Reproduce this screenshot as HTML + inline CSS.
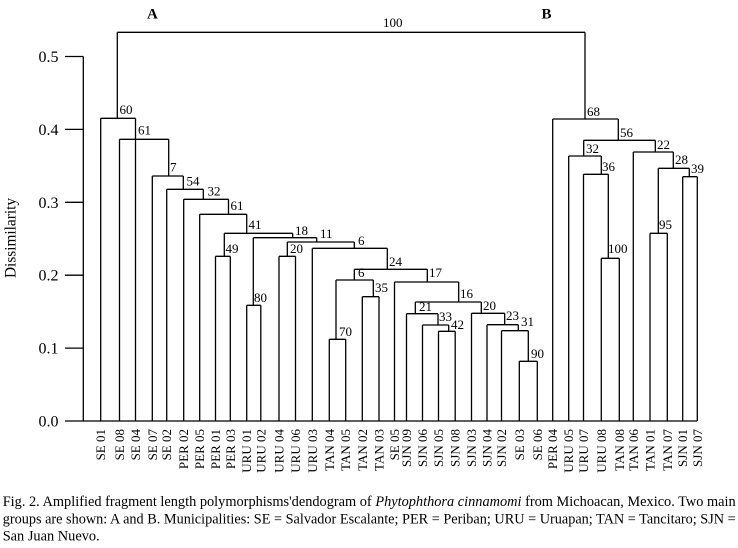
<!DOCTYPE html>
<html>
<head>
<meta charset="utf-8">
<style>
html,body{margin:0;padding:0;background:#fff;}
svg{display:block;}
text{font-family:"Liberation Serif","Times New Roman",serif;fill:#000;}
</style>
</head>
<body>
<svg width="738" height="548" viewBox="0 0 738 548" xmlns="http://www.w3.org/2000/svg">
<rect width="738" height="548" fill="#fff"/>
<g stroke="#000" stroke-width="1.3" fill="none">
<!-- axis -->
<path d="M83.3 56.5 V421 M65 56.5 H83.3 M65 129.4 H83.3 M65 202.3 H83.3 M65 275.2 H83.3 M65 348.1 H83.3 M65 421 H697.3"/>
<!-- leaves -->
<path d="M100.7 421 V118.3 M119.5 421 V139.3 M135.5 421 V118.3 M152.3 421 V176 M166.7 421 V189.3 M183.7 421 V199.3 M199.7 421 V214.3 M215.5 421 V256.3 M230.3 421 V256.3 M246.7 421 V305.3 M260.8 421 V305.3 M279 421 V256.3 M295.5 421 V256.3 M312.3 421 V248.3 M329.3 421 V339.3 M345.7 421 V339.3 M362.3 421 V296.7 M379 421 V296.7 M394.5 421 V282 M406.5 421 V313.7 M422.5 421 V325 M438.5 421 V331.3 M455.2 421 V331.3 M471.5 421 V313.3 M487 421 V324.7 M501.5 421 V330.7 M519.3 421 V361.3 M537.3 421 V361.3 M552.7 421 V119 M568.7 421 V156 M583.5 421 V174.3 M601.3 421 V258.3 M619.3 421 V258.3 M633.3 421 V152 M650 421 V233.3 M667.3 421 V233.3 M682.7 421 V176.7 M697.3 421 V176.7"/>
<!-- internal nodes -->
<path d="M117.3 32.3 H585
M100.7 118.3 H135.5 M117.3 118.3 V32.3
M119.5 139.3 H168.7
M152.3 176 H183.3 M168.7 176 V139.3
M166.7 189.3 H203.3 M183.3 189.3 V176
M183.7 199.3 H228.5 M203.3 199.3 V189.3
M199.7 214.3 H246.7 M228.5 214.3 V199.3
M224.3 233.3 H292.7 M246.7 233.3 V214.3
M215.5 256.3 H230.3 M224.3 256.3 V233.3
M253.3 237.7 H316.7 M292.7 237.7 V233.3
M246.7 305.3 H260.8 M253.3 305.3 V237.7
M287.3 242 H354.3 M316.7 242 V237.7
M279 256.3 H295.5 M287.3 256.3 V242
M312.3 248.3 H387.3 M354.3 248.3 V242
M354.3 269.3 H427.3 M387.3 269.3 V248.3
M336 280 H373.3 M354.3 280 V269.3
M329.3 339.3 H345.7 M336 339.3 V280
M362.3 296.7 H379 M373.3 296.7 V280
M394.5 282 H458.7 M427.3 282 V269.3
M415.3 302 H481.3 M458.7 302 V282
M406.5 313.7 H438 M415.3 313.7 V302
M422.5 325 H448.7 M438 325 V313.7
M438.5 331.3 H455.2 M448.7 331.3 V325
M471.5 313.3 H504.7 M481.3 313.3 V302
M487 324.7 H518.3 M504.7 324.7 V313.3
M501.5 330.7 H528.3 M518.3 330.7 V324.7
M519.3 361.3 H537.3 M528.3 361.3 V330.7
M552.7 119 H618.3 M585 119 V32.3
M583.7 140.3 H655.3 M618.3 140.3 V119
M568.7 156 H601.3 M583.7 156 V140.3
M583.5 174.3 H608.3 M601.3 174.3 V156
M601.3 258.3 H619.3 M608.3 258.3 V174.3
M633.3 152 H673.3 M655.3 152 V140.3
M658.3 168.3 H689.3 M673.3 168.3 V152
M650 233.3 H667.3 M658.3 233.3 V168.3
M682.7 176.7 H697.3 M689.3 176.7 V168.3"/>
</g>

<!-- y tick labels -->
<g font-size="16" text-anchor="end">
<text x="58.5" y="62">0.5</text>
<text x="58.5" y="134.9">0.4</text>
<text x="58.5" y="207.8">0.3</text>
<text x="58.5" y="280.7">0.2</text>
<text x="58.5" y="353.6">0.1</text>
<text x="58.5" y="426.5">0.0</text>
</g>
<text font-size="16" text-anchor="middle" textLength="80" lengthAdjust="spacingAndGlyphs" transform="translate(15.5,238) rotate(-90)">Dissimilarity</text>

<!-- group labels -->
<text x="147" y="18.5" font-size="15" font-weight="bold">A</text>
<text x="541.5" y="18.5" font-size="15" font-weight="bold">B</text>

<!-- node labels -->
<g font-size="13">
<text x="383" y="27">100</text>
<text x="119.5" y="114">60</text>
<text x="138" y="134.5">61</text>
<text x="170" y="171.5">7</text>
<text x="186.5" y="185.5">54</text>
<text x="207.5" y="195.5">32</text>
<text x="230.5" y="210">61</text>
<text x="248.5" y="229">41</text>
<text x="225.5" y="253">49</text>
<text x="295" y="235">18</text>
<text x="254" y="302">80</text>
<text x="320" y="238">11</text>
<text x="290" y="253">20</text>
<text x="358" y="245">6</text>
<text x="389" y="266">24</text>
<text x="358" y="277">6</text>
<text x="339" y="336">70</text>
<text x="375" y="292">35</text>
<text x="429" y="277">17</text>
<text x="460" y="298">16</text>
<text x="419" y="311">21</text>
<text x="439" y="321">33</text>
<text x="451" y="329">42</text>
<text x="483" y="310">20</text>
<text x="506" y="320">23</text>
<text x="521" y="326">31</text>
<text x="531" y="358">90</text>
<text x="587" y="116">68</text>
<text x="620" y="137">56</text>
<text x="586" y="153">32</text>
<text x="602" y="171">36</text>
<text x="608" y="253">100</text>
<text x="657" y="149">22</text>
<text x="675" y="164">28</text>
<text x="659" y="229">95</text>
<text x="691" y="173">39</text>
</g>

<!-- leaf labels -->
<g font-size="13" text-anchor="end">
<text transform="translate(105.2,429) rotate(-90)">SE 01</text>
<text transform="translate(124,429) rotate(-90)">SE 08</text>
<text transform="translate(140,429) rotate(-90)">SE 04</text>
<text transform="translate(156.8,429) rotate(-90)">SE 07</text>
<text transform="translate(171.2,429) rotate(-90)">SE 02</text>
<text transform="translate(188.2,429) rotate(-90)">PER 02</text>
<text transform="translate(204.2,429) rotate(-90)">PER 05</text>
<text transform="translate(220,429) rotate(-90)">PER 01</text>
<text transform="translate(234.8,429) rotate(-90)">PER 03</text>
<text transform="translate(251.2,429) rotate(-90)">URU 01</text>
<text transform="translate(265.3,429) rotate(-90)">URU 02</text>
<text transform="translate(283.5,429) rotate(-90)">URU 04</text>
<text transform="translate(300,429) rotate(-90)">URU 06</text>
<text transform="translate(316.8,429) rotate(-90)">URU 03</text>
<text transform="translate(333.8,429) rotate(-90)">TAN 04</text>
<text transform="translate(350.2,429) rotate(-90)">TAN 05</text>
<text transform="translate(366.8,429) rotate(-90)">TAN 02</text>
<text transform="translate(383.5,429) rotate(-90)">TAN 03</text>
<text transform="translate(399,429) rotate(-90)">SE 05</text>
<text transform="translate(411,429) rotate(-90)">SJN 09</text>
<text transform="translate(427,429) rotate(-90)">SJN 06</text>
<text transform="translate(443,429) rotate(-90)">SJN 05</text>
<text transform="translate(459.7,429) rotate(-90)">SJN 08</text>
<text transform="translate(476,429) rotate(-90)">SJN 03</text>
<text transform="translate(491.5,429) rotate(-90)">SJN 04</text>
<text transform="translate(506,429) rotate(-90)">SJN 02</text>
<text transform="translate(523.8,429) rotate(-90)">SE 03</text>
<text transform="translate(541.8,429) rotate(-90)">SE 06</text>
<text transform="translate(557.2,429) rotate(-90)">PER 04</text>
<text transform="translate(573.2,429) rotate(-90)">URU 05</text>
<text transform="translate(588,429) rotate(-90)">URU 07</text>
<text transform="translate(605.8,429) rotate(-90)">URU 08</text>
<text transform="translate(623.8,429) rotate(-90)">TAN 08</text>
<text transform="translate(637.8,429) rotate(-90)">TAN 06</text>
<text transform="translate(654.5,429) rotate(-90)">TAN 01</text>
<text transform="translate(671.8,429) rotate(-90)">TAN 07</text>
<text transform="translate(687.2,429) rotate(-90)">SJN 01</text>
<text transform="translate(701.8,429) rotate(-90)">SJN 07</text>
</g>

<!-- caption -->
<g font-size="15">
<text x="2.7" y="506" textLength="733" lengthAdjust="spacingAndGlyphs">Fig. 2. Amplified fragment length polymorphisms'dendogram of <tspan font-style="italic">Phytophthora cinnamomi</tspan> from Michoacan, Mexico. Two main</text>
<text x="2.7" y="523.3" textLength="733" lengthAdjust="spacingAndGlyphs">groups are shown: A and B. Municipalities: SE = Salvador Escalante; PER = Periban; URU = Uruapan; TAN = Tancitaro; SJN =</text>
<text x="2.7" y="540.5" textLength="97" lengthAdjust="spacingAndGlyphs">San Juan Nuevo.</text>
</g>
</svg>
</body>
</html>
